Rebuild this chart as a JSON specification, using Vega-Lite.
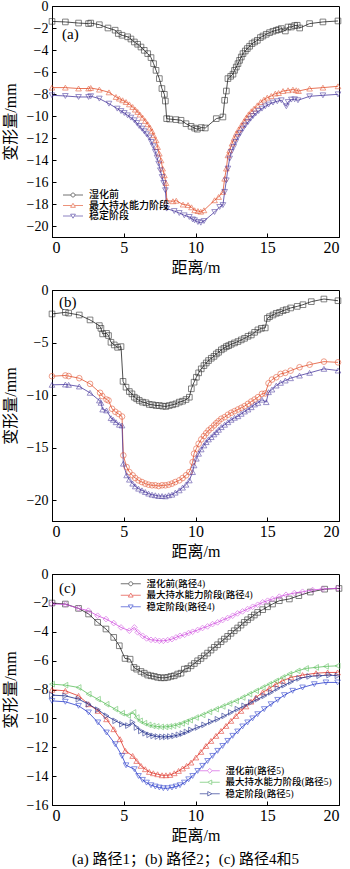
{
"$schema": "https://vega.github.io/schema/vega-lite/v6.json",
"background": "white",
"padding": {"left": 1, "top": -2, "right": 10, "bottom": 2},
"config": {
  "font": "Liberation Serif, Noto Sans CJK SC",
  "view": {"stroke": "#000", "strokeWidth": 1},
  "axis": {"grid": false, "domainColor": "#000", "domainWidth": 1, "tickColor": "#000", "tickWidth": 1, "tickSize": -4, "labelColor": "#000", "labelFont": "Liberation Serif", "titleFont": "Liberation Serif, Noto Sans CJK SC", "titleFontWeight": "normal", "titleColor": "#000", "titleFontSize": 16},
  "axisX": {"labelFontSize": 16, "labelPadding": 6, "titlePadding": 4},
  "axisY": {"labelFontSize": 14, "labelPadding": 8, "titlePadding": 8},
  "legend": {"labelFont": "Liberation Serif, Noto Sans CJK SC", "labelColor": "#000", "labelFontSize": 10, "labelFontWeight": 500, "symbolSize": 16, "labelOffset": 19, "rowPadding": 0.5, "symbolStrokeWidth": 0.9, "symbolFillColor": "transparent"}
},
"title": {"text": "(a) 路径1；(b) 路径2；(c) 路径4和5", "orient": "bottom", "anchor": "middle", "frame": "bounds", "fontSize": 15, "fontWeight": "normal", "font": "Liberation Serif, Noto Sans CJK SC", "offset": 8, "dx": 6},
"bounds": "flush",
"spacing": 53,
"datasets": {
"a": [
{"s":"湿化前","x":0,"y":-1.4},{"s":"湿化前","x":0.93,"y":-1.45},{"s":"湿化前","x":1.85,"y":-1.55},{"s":"湿化前","x":2.55,"y":-1.6},{"s":"湿化前","x":2.7,"y":-1.55},{"s":"湿化前","x":3.3,"y":-1.7},{"s":"湿化前","x":3.9,"y":-2.0},{"s":"湿化前","x":4.4,"y":-2.2},{"s":"湿化前","x":4.62,"y":-2.5},{"s":"湿化前","x":4.88,"y":-2.66},{"s":"湿化前","x":5.27,"y":-2.8},{"s":"湿化前","x":5.5,"y":-3.0},{"s":"湿化前","x":5.74,"y":-3.27},{"s":"湿化前","x":5.97,"y":-3.48},{"s":"湿化前","x":6.2,"y":-3.73},{"s":"湿化前","x":6.43,"y":-4.03},{"s":"湿化前","x":6.67,"y":-4.33},{"s":"湿化前","x":6.9,"y":-4.69},{"s":"湿化前","x":7.08,"y":-5.24},{"s":"湿化前","x":7.25,"y":-5.85},{"s":"湿化前","x":7.48,"y":-6.6},{"s":"湿化前","x":7.66,"y":-7.5},{"s":"湿化前","x":7.83,"y":-8.03},{"s":"湿化前","x":7.9,"y":-8.64},{"s":"湿化前","x":7.99,"y":-10.24},{"s":"湿化前","x":8.2,"y":-10.28},{"s":"湿化前","x":8.64,"y":-10.33},{"s":"湿化前","x":8.99,"y":-10.39},{"s":"湿化前","x":9.34,"y":-10.7},{"s":"湿化前","x":9.69,"y":-10.94},{"s":"湿化前","x":9.94,"y":-11.1},{"s":"湿化前","x":10.13,"y":-11.2},{"s":"湿化前","x":10.4,"y":-11.05},{"s":"湿化前","x":10.68,"y":-11.09},{"s":"湿化前","x":11.45,"y":-10.24},{"s":"湿化前","x":11.91,"y":-10.09},{"s":"湿化前","x":12.03,"y":-8.57},{"s":"湿化前","x":12.15,"y":-7.73},{"s":"湿化前","x":12.26,"y":-6.6},{"s":"湿化前","x":12.45,"y":-6.39},{"s":"湿化前","x":12.61,"y":-6.2},{"s":"湿化前","x":12.72,"y":-5.85},{"s":"湿化前","x":12.84,"y":-5.55},{"s":"湿化前","x":12.96,"y":-5.24},{"s":"湿化前","x":13.07,"y":-4.94},{"s":"湿化前","x":13.19,"y":-4.64},{"s":"湿化前","x":13.31,"y":-4.33},{"s":"湿化前","x":13.47,"y":-4.09},{"s":"湿化前","x":13.61,"y":-3.87},{"s":"湿化前","x":13.77,"y":-3.66},{"s":"湿化前","x":13.94,"y":-3.42},{"s":"湿化前","x":14.12,"y":-3.27},{"s":"湿化前","x":14.31,"y":-3.12},{"s":"湿化前","x":14.52,"y":-2.87},{"s":"湿化前","x":14.7,"y":-2.73},{"s":"湿化前","x":14.93,"y":-2.57},{"s":"湿化前","x":15.16,"y":-2.42},{"s":"湿化前","x":15.4,"y":-2.3},{"s":"湿化前","x":15.63,"y":-2.21},{"s":"湿化前","x":15.79,"y":-2.15},{"s":"湿化前","x":15.98,"y":-2.05},{"s":"湿化前","x":16.26,"y":-2.27},{"s":"湿化前","x":16.45,"y":-1.91},{"s":"湿化前","x":16.68,"y":-1.91},{"s":"湿化前","x":16.91,"y":-1.78},{"s":"湿化前","x":17.09,"y":-1.75},{"s":"湿化前","x":17.26,"y":-2.0},{"s":"湿化前","x":17.95,"y":-1.6},{"s":"湿化前","x":18.88,"y":-1.45},{"s":"湿化前","x":19.93,"y":-1.36},
{"s":"最大持水能力阶段","x":0,"y":-7.42},{"s":"最大持水能力阶段","x":0.93,"y":-7.42},{"s":"最大持水能力阶段","x":1.85,"y":-7.5},{"s":"最大持水能力阶段","x":2.55,"y":-7.5},{"s":"最大持水能力阶段","x":2.7,"y":-7.45},{"s":"最大持水能力阶段","x":3.3,"y":-7.6},{"s":"最大持水能力阶段","x":3.97,"y":-7.85},{"s":"最大持水能力阶段","x":4.46,"y":-8.27},{"s":"最大持水能力阶段","x":4.69,"y":-8.42},{"s":"最大持水能力阶段","x":4.92,"y":-8.57},{"s":"最大持水能力阶段","x":5.16,"y":-8.73},{"s":"最大持水能力阶段","x":5.39,"y":-8.94},{"s":"最大持水能力阶段","x":5.62,"y":-9.18},{"s":"最大持水能力阶段","x":5.8,"y":-9.42},{"s":"最大持水能力阶段","x":5.97,"y":-9.63},{"s":"最大持水能力阶段","x":6.13,"y":-9.87},{"s":"最大持水能力阶段","x":6.32,"y":-10.15},{"s":"最大持水能力阶段","x":6.5,"y":-10.45},{"s":"最大持水能力阶段","x":6.67,"y":-10.75},{"s":"最大持水能力阶段","x":6.83,"y":-11.06},{"s":"最大持水能力阶段","x":6.97,"y":-11.39},{"s":"最大持水能力阶段","x":7.08,"y":-11.75},{"s":"最大持水能力阶段","x":7.25,"y":-12.2},{"s":"最大持水能力阶段","x":7.36,"y":-12.82},{"s":"最大持水能力阶段","x":7.48,"y":-13.42},{"s":"最大持水能力阶段","x":7.6,"y":-14.03},{"s":"最大持水能力阶段","x":7.71,"y":-14.78},{"s":"最大持水能力阶段","x":7.83,"y":-15.39},{"s":"最大持水能力阶段","x":7.94,"y":-16.09},{"s":"最大持水能力阶段","x":8.0,"y":-17.7},{"s":"最大持水能力阶段","x":8.43,"y":-17.75},{"s":"最大持水能力阶段","x":8.66,"y":-17.7},{"s":"最大持水能力阶段","x":9.13,"y":-18.05},{"s":"最大持水能力阶段","x":9.48,"y":-18.1},{"s":"最大持水能力阶段","x":9.72,"y":-18.3},{"s":"最大持水能力阶段","x":9.94,"y":-18.57},{"s":"最大持水能力阶段","x":10.17,"y":-18.64},{"s":"最大持水能力阶段","x":10.37,"y":-18.7},{"s":"最大持水能力阶段","x":10.59,"y":-18.57},{"s":"最大持水能力阶段","x":11.33,"y":-17.66},{"s":"最大持水能力阶段","x":11.61,"y":-17.36},{"s":"最大持水能力阶段","x":11.91,"y":-16.9},{"s":"最大持水能力阶段","x":12.03,"y":-15.7},{"s":"最大持水能力阶段","x":12.15,"y":-14.78},{"s":"最大持水能力阶段","x":12.26,"y":-13.57},{"s":"最大持水能力阶段","x":12.38,"y":-13.12},{"s":"最大持水能力阶段","x":12.54,"y":-12.51},{"s":"最大持水能力阶段","x":12.68,"y":-12.05},{"s":"最大持水能力阶段","x":12.84,"y":-11.6},{"s":"最大持水能力阶段","x":13.0,"y":-11.24},{"s":"最大持水能力阶段","x":13.19,"y":-10.85},{"s":"最大持水能力阶段","x":13.38,"y":-10.48},{"s":"最大持水能力阶段","x":13.54,"y":-10.15},{"s":"最大持水能力阶段","x":13.7,"y":-9.85},{"s":"最大持水能力阶段","x":13.89,"y":-9.57},{"s":"最大持水能力阶段","x":14.08,"y":-9.33},{"s":"最大持水能力阶段","x":14.31,"y":-9.03},{"s":"最大持水能力阶段","x":14.54,"y":-8.73},{"s":"最大持水能力阶段","x":14.77,"y":-8.51},{"s":"最大持水能力阶段","x":15.0,"y":-8.33},{"s":"最大持水能力阶段","x":15.28,"y":-8.18},{"s":"最大持水能力阶段","x":15.56,"y":-7.96},{"s":"最大持水能力阶段","x":15.79,"y":-7.91},{"s":"最大持水能力阶段","x":16.1,"y":-7.73},{"s":"最大持水能力阶段","x":16.45,"y":-7.66},{"s":"最大持水能力阶段","x":16.79,"y":-7.6},{"s":"最大持水能力阶段","x":17.02,"y":-7.66},{"s":"最大持水能力阶段","x":17.18,"y":-7.73},{"s":"最大持水能力阶段","x":17.95,"y":-7.51},{"s":"最大持水能力阶段","x":18.88,"y":-7.42},{"s":"最大持水能力阶段","x":19.93,"y":-7.3},
{"s":"稳定阶段","x":0,"y":-8.12},{"s":"稳定阶段","x":0.93,"y":-8.18},{"s":"稳定阶段","x":1.85,"y":-8.27},{"s":"稳定阶段","x":2.55,"y":-8.27},{"s":"稳定阶段","x":2.7,"y":-8.2},{"s":"稳定阶段","x":3.3,"y":-8.42},{"s":"稳定阶段","x":3.97,"y":-8.88},{"s":"稳定阶段","x":4.55,"y":-9.33},{"s":"稳定阶段","x":4.81,"y":-9.55},{"s":"稳定阶段","x":5.04,"y":-9.73},{"s":"稳定阶段","x":5.27,"y":-9.94},{"s":"稳定阶段","x":5.5,"y":-10.15},{"s":"稳定阶段","x":5.74,"y":-10.39},{"s":"稳定阶段","x":5.92,"y":-10.64},{"s":"稳定阶段","x":6.08,"y":-10.91},{"s":"稳定阶段","x":6.27,"y":-11.15},{"s":"稳定阶段","x":6.43,"y":-11.39},{"s":"稳定阶段","x":6.59,"y":-11.66},{"s":"稳定阶段","x":6.78,"y":-11.96},{"s":"稳定阶段","x":6.92,"y":-12.36},{"s":"稳定阶段","x":7.06,"y":-12.75},{"s":"稳定阶段","x":7.2,"y":-13.27},{"s":"稳定阶段","x":7.32,"y":-13.78},{"s":"稳定阶段","x":7.43,"y":-14.33},{"s":"稳定阶段","x":7.55,"y":-14.94},{"s":"稳定阶段","x":7.67,"y":-15.55},{"s":"稳定阶段","x":7.78,"y":-16.09},{"s":"稳定阶段","x":7.9,"y":-16.75},{"s":"稳定阶段","x":7.99,"y":-18.42},{"s":"稳定阶段","x":8.52,"y":-18.64},{"s":"稳定阶段","x":8.87,"y":-18.82},{"s":"稳定阶段","x":9.22,"y":-19.03},{"s":"稳定阶段","x":9.57,"y":-19.18},{"s":"稳定阶段","x":9.8,"y":-19.4},{"s":"稳定阶段","x":9.94,"y":-19.48},{"s":"稳定阶段","x":10.17,"y":-19.64},{"s":"稳定阶段","x":10.37,"y":-19.7},{"s":"稳定阶段","x":10.59,"y":-19.55},{"s":"稳定阶段","x":11.33,"y":-18.73},{"s":"稳定阶段","x":11.68,"y":-18.27},{"s":"稳定阶段","x":11.91,"y":-18.1},{"s":"稳定阶段","x":12.03,"y":-16.9},{"s":"稳定阶段","x":12.15,"y":-15.85},{"s":"稳定阶段","x":12.26,"y":-14.78},{"s":"稳定阶段","x":12.38,"y":-13.87},{"s":"稳定阶段","x":12.49,"y":-13.27},{"s":"稳定阶段","x":12.66,"y":-12.82},{"s":"稳定阶段","x":12.8,"y":-12.36},{"s":"稳定阶段","x":12.96,"y":-11.91},{"s":"稳定阶段","x":13.12,"y":-11.55},{"s":"稳定阶段","x":13.31,"y":-11.15},{"s":"稳定阶段","x":13.47,"y":-10.85},{"s":"稳定阶段","x":13.66,"y":-10.55},{"s":"稳定阶段","x":13.84,"y":-10.24},{"s":"稳定阶段","x":14.01,"y":-10.0},{"s":"稳定阶段","x":14.19,"y":-9.78},{"s":"稳定阶段","x":14.4,"y":-9.55},{"s":"稳定阶段","x":14.63,"y":-9.33},{"s":"稳定阶段","x":14.86,"y":-9.12},{"s":"稳定阶段","x":15.09,"y":-8.96},{"s":"稳定阶段","x":15.4,"y":-8.78},{"s":"稳定阶段","x":15.7,"y":-8.66},{"s":"稳定阶段","x":15.98,"y":-8.57},{"s":"稳定阶段","x":16.33,"y":-9.12},{"s":"稳定阶段","x":16.45,"y":-8.73},{"s":"稳定阶段","x":16.68,"y":-8.51},{"s":"稳定阶段","x":16.91,"y":-8.48},{"s":"稳定阶段","x":17.14,"y":-8.57},{"s":"稳定阶段","x":17.95,"y":-8.21},{"s":"稳定阶段","x":18.88,"y":-8.12},{"s":"稳定阶段","x":19.93,"y":-8.03}
],
"b": [
{"s":"湿化前","x":0,"y":-2.28},{"s":"湿化前","x":0.93,"y":-2.13},{"s":"湿化前","x":1.16,"y":-2.2},{"s":"湿化前","x":1.9,"y":-2.38},{"s":"湿化前","x":2.65,"y":-2.85},{"s":"湿化前","x":3.3,"y":-3.39},{"s":"湿化前","x":3.41,"y":-3.65},{"s":"湿化前","x":3.53,"y":-4.18},{"s":"湿化前","x":3.8,"y":-4.13},{"s":"湿化前","x":3.94,"y":-4.34},{"s":"湿化前","x":4.11,"y":-4.98},{"s":"湿化前","x":4.34,"y":-5.23},{"s":"湿化前","x":4.57,"y":-5.46},{"s":"湿化前","x":4.81,"y":-5.39},{"s":"湿化前","x":4.95,"y":-8.7},{"s":"湿化前","x":5.16,"y":-9.26},{"s":"湿化前","x":5.39,"y":-9.67},{"s":"湿化前","x":5.57,"y":-9.89},{"s":"湿化前","x":5.74,"y":-10.21},{"s":"湿化前","x":5.9,"y":-10.36},{"s":"湿化前","x":6.08,"y":-10.52},{"s":"湿化前","x":6.31,"y":-10.68},{"s":"湿化前","x":6.55,"y":-10.74},{"s":"湿化前","x":6.78,"y":-10.9},{"s":"湿化前","x":7.01,"y":-10.93},{"s":"湿化前","x":7.25,"y":-11.0},{"s":"湿化前","x":7.48,"y":-11.0},{"s":"湿化前","x":7.71,"y":-11.06},{"s":"湿化前","x":7.94,"y":-11.09},{"s":"湿化前","x":8.17,"y":-11.0},{"s":"湿化前","x":8.4,"y":-10.93},{"s":"湿化前","x":8.64,"y":-10.84},{"s":"湿化前","x":8.87,"y":-10.68},{"s":"湿化前","x":9.1,"y":-10.59},{"s":"湿化前","x":9.34,"y":-10.43},{"s":"湿化前","x":9.57,"y":-10.21},{"s":"湿化前","x":9.71,"y":-9.41},{"s":"湿化前","x":9.9,"y":-8.78},{"s":"湿化前","x":10.06,"y":-8.31},{"s":"湿化前","x":10.22,"y":-7.89},{"s":"湿化前","x":10.4,"y":-7.51},{"s":"湿化前","x":10.59,"y":-7.2},{"s":"湿化前","x":10.75,"y":-6.95},{"s":"湿化前","x":10.91,"y":-6.72},{"s":"湿化前","x":11.1,"y":-6.5},{"s":"湿化前","x":11.29,"y":-6.32},{"s":"湿化前","x":11.45,"y":-6.09},{"s":"湿化前","x":11.61,"y":-5.93},{"s":"湿化前","x":11.8,"y":-5.7},{"s":"湿化前","x":11.98,"y":-5.55},{"s":"湿化前","x":12.15,"y":-5.39},{"s":"湿化前","x":12.31,"y":-5.3},{"s":"湿化前","x":12.49,"y":-5.17},{"s":"湿化前","x":12.72,"y":-5.04},{"s":"湿化前","x":12.96,"y":-4.91},{"s":"湿化前","x":13.19,"y":-4.75},{"s":"湿化前","x":13.42,"y":-4.6},{"s":"湿化前","x":13.66,"y":-4.41},{"s":"湿化前","x":13.89,"y":-4.28},{"s":"湿化前","x":14.12,"y":-4.03},{"s":"湿化前","x":14.35,"y":-3.8},{"s":"湿化前","x":14.59,"y":-3.65},{"s":"湿化前","x":14.86,"y":-3.61},{"s":"湿化前","x":15.0,"y":-2.7},{"s":"湿化前","x":15.16,"y":-2.54},{"s":"湿化前","x":15.4,"y":-2.38},{"s":"湿化前","x":15.63,"y":-2.22},{"s":"湿化前","x":15.86,"y":-2.13},{"s":"湿化前","x":16.1,"y":-1.97},{"s":"湿化前","x":16.33,"y":-1.87},{"s":"湿化前","x":16.63,"y":-1.71},{"s":"湿化前","x":17.09,"y":-1.56},{"s":"湿化前","x":17.49,"y":-1.4},{"s":"湿化前","x":18.07,"y":-1.11},{"s":"湿化前","x":18.95,"y":-0.86},{"s":"湿化前","x":19.93,"y":-1.02},
{"s":"最大持水能力阶段","x":0,"y":-8.21},{"s":"最大持水能力阶段","x":0.93,"y":-8.14},{"s":"最大持水能力阶段","x":1.16,"y":-8.2},{"s":"最大持水能力阶段","x":1.9,"y":-8.4},{"s":"最大持水能力阶段","x":2.65,"y":-8.94},{"s":"最大持水能力阶段","x":3.35,"y":-9.79},{"s":"最大持水能力阶段","x":3.5,"y":-10.1},{"s":"最大持水能力阶段","x":3.8,"y":-10.43},{"s":"最大持水能力阶段","x":3.94,"y":-10.52},{"s":"最大持水能力阶段","x":4.18,"y":-11.31},{"s":"最大持水能力阶段","x":4.41,"y":-11.6},{"s":"最大持水能力阶段","x":4.64,"y":-11.8},{"s":"最大持水能力阶段","x":4.88,"y":-12.05},{"s":"最大持水能力阶段","x":4.97,"y":-15.75},{"s":"最大持水能力阶段","x":5.2,"y":-16.86},{"s":"最大持水能力阶段","x":5.39,"y":-17.34},{"s":"最大持水能力阶段","x":5.62,"y":-17.65},{"s":"最大持水能力阶段","x":5.8,"y":-17.91},{"s":"最大持水能力阶段","x":6.03,"y":-18.13},{"s":"最大持水能力阶段","x":6.27,"y":-18.29},{"s":"最大持水能力阶段","x":6.5,"y":-18.44},{"s":"最大持水能力阶段","x":6.73,"y":-18.54},{"s":"最大持水能力阶段","x":6.97,"y":-18.6},{"s":"最大持水能力阶段","x":7.2,"y":-18.6},{"s":"最大持水能力阶段","x":7.43,"y":-18.67},{"s":"最大持水能力阶段","x":7.67,"y":-18.6},{"s":"最大持水能力阶段","x":7.9,"y":-18.6},{"s":"最大持水能力阶段","x":8.13,"y":-18.54},{"s":"最大持水能力阶段","x":8.36,"y":-18.44},{"s":"最大持水能力阶段","x":8.59,"y":-18.29},{"s":"最大持水能力阶段","x":8.87,"y":-18.13},{"s":"最大持水能力阶段","x":9.1,"y":-17.91},{"s":"最大持水能力阶段","x":9.34,"y":-17.65},{"s":"最大持水能力阶段","x":9.57,"y":-17.34},{"s":"最大持水能力阶段","x":9.8,"y":-16.39},{"s":"最大持水能力阶段","x":9.9,"y":-15.59},{"s":"最大持水能力阶段","x":10.06,"y":-15.11},{"s":"最大持水能力阶段","x":10.22,"y":-14.64},{"s":"最大持水能力阶段","x":10.4,"y":-14.23},{"s":"最大持水能力阶段","x":10.59,"y":-13.91},{"s":"最大持水能力阶段","x":10.75,"y":-13.63},{"s":"最大持水能力阶段","x":10.91,"y":-13.37},{"s":"最大持水能力阶段","x":11.1,"y":-13.15},{"s":"最大持水能力阶段","x":11.29,"y":-12.9},{"s":"最大持水能力阶段","x":11.45,"y":-12.68},{"s":"最大持水能力阶段","x":11.61,"y":-12.49},{"s":"最大持水能力阶段","x":11.8,"y":-12.26},{"s":"最大持水能力阶段","x":12.03,"y":-12.11},{"s":"最大持水能力阶段","x":12.26,"y":-11.88},{"s":"最大持水能力阶段","x":12.49,"y":-11.69},{"s":"最大持水能力阶段","x":12.72,"y":-11.54},{"s":"最大持水能力阶段","x":12.96,"y":-11.38},{"s":"最大持水能力阶段","x":13.19,"y":-11.22},{"s":"最大持水能力阶段","x":13.42,"y":-11.06},{"s":"最大持水能力阶段","x":13.66,"y":-10.84},{"s":"最大持水能力阶段","x":13.89,"y":-10.62},{"s":"最大持水能力阶段","x":14.12,"y":-10.43},{"s":"最大持水能力阶段","x":14.35,"y":-10.21},{"s":"最大持水能力阶段","x":14.63,"y":-9.89},{"s":"最大持水能力阶段","x":14.86,"y":-9.85},{"s":"最大持水能力阶段","x":15.09,"y":-8.88},{"s":"最大持水能力阶段","x":15.33,"y":-8.53},{"s":"最大持水能力阶段","x":15.63,"y":-8.31},{"s":"最大持水能力阶段","x":15.93,"y":-7.99},{"s":"最大持水能力阶段","x":16.26,"y":-7.89},{"s":"最大持水能力阶段","x":16.63,"y":-7.68},{"s":"最大持水能力阶段","x":17.25,"y":-7.36},{"s":"最大持水能力阶段","x":17.95,"y":-7.11},{"s":"最大持水能力阶段","x":18.95,"y":-6.82},{"s":"最大持水能力阶段","x":19.93,"y":-6.89},
{"s":"稳定阶段","x":0,"y":-9.03},{"s":"稳定阶段","x":0.93,"y":-9.0},{"s":"稳定阶段","x":1.16,"y":-9.03},{"s":"稳定阶段","x":1.9,"y":-9.19},{"s":"稳定阶段","x":2.65,"y":-9.79},{"s":"稳定阶段","x":3.3,"y":-10.52},{"s":"稳定阶段","x":3.41,"y":-10.74},{"s":"稳定阶段","x":3.53,"y":-11.38},{"s":"稳定阶段","x":3.8,"y":-11.47},{"s":"稳定阶段","x":4.11,"y":-12.2},{"s":"稳定阶段","x":4.27,"y":-12.36},{"s":"稳定阶段","x":4.46,"y":-12.59},{"s":"稳定阶段","x":4.69,"y":-12.83},{"s":"稳定阶段","x":4.88,"y":-12.9},{"s":"稳定阶段","x":4.97,"y":-16.54},{"s":"稳定阶段","x":5.2,"y":-17.65},{"s":"稳定阶段","x":5.39,"y":-18.06},{"s":"稳定阶段","x":5.62,"y":-18.44},{"s":"稳定阶段","x":5.8,"y":-18.7},{"s":"稳定阶段","x":6.03,"y":-18.92},{"s":"稳定阶段","x":6.27,"y":-19.08},{"s":"稳定阶段","x":6.5,"y":-19.24},{"s":"稳定阶段","x":6.73,"y":-19.39},{"s":"稳定阶段","x":6.97,"y":-19.49},{"s":"稳定阶段","x":7.2,"y":-19.55},{"s":"稳定阶段","x":7.43,"y":-19.62},{"s":"稳定阶段","x":7.67,"y":-19.62},{"s":"稳定阶段","x":7.9,"y":-19.65},{"s":"稳定阶段","x":8.13,"y":-19.55},{"s":"稳定阶段","x":8.36,"y":-19.49},{"s":"稳定阶段","x":8.59,"y":-19.3},{"s":"稳定阶段","x":8.87,"y":-19.08},{"s":"稳定阶段","x":9.1,"y":-18.82},{"s":"稳定阶段","x":9.34,"y":-18.54},{"s":"稳定阶段","x":9.57,"y":-18.13},{"s":"稳定阶段","x":9.8,"y":-17.34},{"s":"稳定阶段","x":9.9,"y":-16.7},{"s":"稳定阶段","x":10.06,"y":-16.06},{"s":"稳定阶段","x":10.22,"y":-15.59},{"s":"稳定阶段","x":10.4,"y":-15.18},{"s":"稳定阶段","x":10.59,"y":-14.8},{"s":"稳定阶段","x":10.75,"y":-14.49},{"s":"稳定阶段","x":10.91,"y":-14.23},{"s":"稳定阶段","x":11.1,"y":-14.01},{"s":"稳定阶段","x":11.29,"y":-13.75},{"s":"稳定阶段","x":11.45,"y":-13.54},{"s":"稳定阶段","x":11.61,"y":-13.31},{"s":"稳定阶段","x":11.8,"y":-13.06},{"s":"稳定阶段","x":12.03,"y":-12.83},{"s":"稳定阶段","x":12.26,"y":-12.59},{"s":"稳定阶段","x":12.49,"y":-12.36},{"s":"稳定阶段","x":12.72,"y":-12.17},{"s":"稳定阶段","x":12.96,"y":-12.02},{"s":"稳定阶段","x":13.19,"y":-11.79},{"s":"稳定阶段","x":13.42,"y":-11.57},{"s":"稳定阶段","x":13.66,"y":-11.38},{"s":"稳定阶段","x":13.89,"y":-11.16},{"s":"稳定阶段","x":14.12,"y":-10.9},{"s":"稳定阶段","x":14.35,"y":-10.75},{"s":"稳定阶段","x":14.63,"y":-10.45},{"s":"稳定阶段","x":14.93,"y":-10.68},{"s":"稳定阶段","x":15.09,"y":-9.73},{"s":"稳定阶段","x":15.33,"y":-9.48},{"s":"稳定阶段","x":15.63,"y":-9.1},{"s":"稳定阶段","x":15.93,"y":-8.84},{"s":"稳定阶段","x":16.26,"y":-8.62},{"s":"稳定阶段","x":16.63,"y":-8.4},{"s":"稳定阶段","x":17.25,"y":-8.15},{"s":"稳定阶段","x":17.95,"y":-7.89},{"s":"稳定阶段","x":18.95,"y":-7.51},{"s":"稳定阶段","x":19.93,"y":-7.67}
],
"c4": [
{"s":"湿化前(路径4)","x":0,"y":-2.01},{"s":"湿化前(路径4)","x":0.93,"y":-2.08},{"s":"湿化前(路径4)","x":1.85,"y":-2.38},{"s":"湿化前(路径4)","x":2.55,"y":-2.77},{"s":"湿化前(路径4)","x":3.18,"y":-3.35},{"s":"湿化前(路径4)","x":3.76,"y":-3.81},{"s":"湿化前(路径4)","x":4.3,"y":-4.39},{"s":"湿化前(路径4)","x":4.69,"y":-4.97},{"s":"湿化前(路径4)","x":5.09,"y":-5.85},{"s":"湿化前(路径4)","x":5.44,"y":-5.9},{"s":"湿化前(路径4)","x":5.71,"y":-6.47},{"s":"湿化前(路径4)","x":5.9,"y":-6.59},{"s":"湿化前(路径4)","x":6.2,"y":-6.75},{"s":"湿化前(路径4)","x":6.43,"y":-6.87},{"s":"湿化前(路径4)","x":6.67,"y":-7.0},{"s":"湿化前(路径4)","x":6.9,"y":-7.05},{"s":"湿化前(路径4)","x":7.13,"y":-7.09},{"s":"湿化前(路径4)","x":7.36,"y":-7.16},{"s":"湿化前(路径4)","x":7.6,"y":-7.19},{"s":"湿化前(路径4)","x":7.83,"y":-7.19},{"s":"湿化前(路径4)","x":8.06,"y":-7.16},{"s":"湿化前(路径4)","x":8.29,"y":-7.09},{"s":"湿化前(路径4)","x":8.52,"y":-7.05},{"s":"湿化前(路径4)","x":8.76,"y":-6.93},{"s":"湿化前(路径4)","x":8.99,"y":-6.87},{"s":"湿化前(路径4)","x":9.22,"y":-6.59},{"s":"湿化前(路径4)","x":9.45,"y":-6.54},{"s":"湿化前(路径4)","x":9.69,"y":-6.36},{"s":"湿化前(路径4)","x":9.92,"y":-6.2},{"s":"湿化前(路径4)","x":10.15,"y":-6.01},{"s":"湿化前(路径4)","x":10.38,"y":-5.85},{"s":"湿化前(路径4)","x":10.61,"y":-5.67},{"s":"湿化前(路径4)","x":10.84,"y":-5.48},{"s":"湿化前(路径4)","x":11.08,"y":-5.27},{"s":"湿化前(路径4)","x":11.31,"y":-5.08},{"s":"湿化前(路径4)","x":11.54,"y":-4.9},{"s":"湿化前(路径4)","x":11.78,"y":-4.69},{"s":"湿化前(路径4)","x":12.01,"y":-4.51},{"s":"湿化前(路径4)","x":12.24,"y":-4.32},{"s":"湿化前(路径4)","x":12.47,"y":-4.11},{"s":"湿化前(路径4)","x":12.7,"y":-3.93},{"s":"湿化前(路径4)","x":12.94,"y":-3.74},{"s":"湿化前(路径4)","x":13.17,"y":-3.54},{"s":"湿化前(路径4)","x":13.4,"y":-3.35},{"s":"湿化前(路径4)","x":13.63,"y":-3.17},{"s":"湿化前(路径4)","x":13.87,"y":-3.0},{"s":"湿化前(路径4)","x":14.1,"y":-2.84},{"s":"湿化前(路径4)","x":14.33,"y":-2.66},{"s":"湿化前(路径4)","x":14.68,"y":-2.47},{"s":"湿化前(路径4)","x":15.02,"y":-2.27},{"s":"湿化前(路径4)","x":15.37,"y":-2.08},{"s":"湿化前(路径4)","x":15.84,"y":-1.85},{"s":"湿化前(路径4)","x":16.54,"y":-1.73},{"s":"湿化前(路径4)","x":17.2,"y":-1.5},{"s":"湿化前(路径4)","x":18.0,"y":-1.25},{"s":"湿化前(路径4)","x":19.0,"y":-1.05},{"s":"湿化前(路径4)","x":20,"y":-1.0},
{"s":"最大持水能力阶段(路径4)","x":0,"y":-8.02},{"s":"最大持水能力阶段(路径4)","x":0.93,"y":-8.09},{"s":"最大持水能力阶段(路径4)","x":1.85,"y":-8.44},{"s":"最大持水能力阶段(路径4)","x":2.55,"y":-9.02},{"s":"最大持水能力阶段(路径4)","x":3.2,"y":-9.48},{"s":"最大持水能力阶段(路径4)","x":3.8,"y":-10.06},{"s":"最大持水能力阶段(路径4)","x":4.3,"y":-10.75},{"s":"最大持水能力阶段(路径4)","x":4.74,"y":-11.44},{"s":"最大持水能力阶段(路径4)","x":5.11,"y":-12.25},{"s":"最大持水能力阶段(路径4)","x":5.62,"y":-12.6},{"s":"最大持水能力阶段(路径4)","x":5.9,"y":-12.95},{"s":"最大持水能力阶段(路径4)","x":6.2,"y":-13.29},{"s":"最大持水能力阶段(路径4)","x":6.5,"y":-13.52},{"s":"最大持水能力阶段(路径4)","x":6.78,"y":-13.71},{"s":"最大持水能力阶段(路径4)","x":7.06,"y":-13.8},{"s":"最大持水能力阶段(路径4)","x":7.36,"y":-13.87},{"s":"最大持水能力阶段(路径4)","x":7.67,"y":-13.94},{"s":"最大持水能力阶段(路径4)","x":7.94,"y":-13.94},{"s":"最大持水能力阶段(路径4)","x":8.22,"y":-13.92},{"s":"最大持水能力阶段(路径4)","x":8.52,"y":-13.8},{"s":"最大持水能力阶段(路径4)","x":8.82,"y":-13.64},{"s":"最大持水能力阶段(路径4)","x":9.1,"y":-13.47},{"s":"最大持水能力阶段(路径4)","x":9.38,"y":-13.29},{"s":"最大持水能力阶段(路径4)","x":9.69,"y":-13.06},{"s":"最大持水能力阶段(路径4)","x":10.03,"y":-12.71},{"s":"最大持水能力阶段(路径4)","x":10.38,"y":-12.32},{"s":"最大持水能力阶段(路径4)","x":10.73,"y":-11.91},{"s":"最大持水能力阶段(路径4)","x":11.08,"y":-11.56},{"s":"最大持水能力阶段(路径4)","x":11.43,"y":-11.21},{"s":"最大持水能力阶段(路径4)","x":11.78,"y":-10.87},{"s":"最大持水能力阶段(路径4)","x":12.13,"y":-10.52},{"s":"最大持水能力阶段(路径4)","x":12.47,"y":-10.17},{"s":"最大持水能力阶段(路径4)","x":12.82,"y":-9.83},{"s":"最大持水能力阶段(路径4)","x":13.17,"y":-9.48},{"s":"最大持水能力阶段(路径4)","x":13.52,"y":-9.17},{"s":"最大持水能力阶段(路径4)","x":13.87,"y":-8.84},{"s":"最大持水能力阶段(路径4)","x":14.22,"y":-8.55},{"s":"最大持水能力阶段(路径4)","x":14.68,"y":-8.2},{"s":"最大持水能力阶段(路径4)","x":15.14,"y":-7.93},{"s":"最大持水能力阶段(路径4)","x":15.61,"y":-7.63},{"s":"最大持水能力阶段(路径4)","x":16.07,"y":-7.4},{"s":"最大持水能力阶段(路径4)","x":16.66,"y":-7.16},{"s":"最大持水能力阶段(路径4)","x":17.46,"y":-7.0},{"s":"最大持水能力阶段(路径4)","x":18.4,"y":-6.87},{"s":"最大持水能力阶段(路径4)","x":19.21,"y":-6.82},{"s":"最大持水能力阶段(路径4)","x":19.9,"y":-6.82},
{"s":"稳定阶段(路径4)","x":0,"y":-8.79},{"s":"稳定阶段(路径4)","x":0.93,"y":-8.85},{"s":"稳定阶段(路径4)","x":1.85,"y":-9.13},{"s":"稳定阶段(路径4)","x":2.55,"y":-9.59},{"s":"稳定阶段(路径4)","x":3.2,"y":-10.28},{"s":"稳定阶段(路径4)","x":3.8,"y":-10.98},{"s":"稳定阶段(路径4)","x":4.41,"y":-11.79},{"s":"稳定阶段(路径4)","x":4.88,"y":-12.6},{"s":"稳定阶段(路径4)","x":5.16,"y":-13.25},{"s":"稳定阶段(路径4)","x":5.74,"y":-13.52},{"s":"稳定阶段(路径4)","x":6.03,"y":-13.99},{"s":"稳定阶段(路径4)","x":6.31,"y":-14.26},{"s":"稳定阶段(路径4)","x":6.59,"y":-14.45},{"s":"稳定阶段(路径4)","x":6.9,"y":-14.63},{"s":"稳定阶段(路径4)","x":7.2,"y":-14.72},{"s":"稳定阶段(路径4)","x":7.48,"y":-14.79},{"s":"稳定阶段(路径4)","x":7.76,"y":-14.84},{"s":"稳定阶段(路径4)","x":8.06,"y":-14.84},{"s":"稳定阶段(路径4)","x":8.36,"y":-14.79},{"s":"稳定阶段(路径4)","x":8.64,"y":-14.72},{"s":"稳定阶段(路径4)","x":8.92,"y":-14.63},{"s":"稳定阶段(路径4)","x":9.22,"y":-14.45},{"s":"稳定阶段(路径4)","x":9.52,"y":-14.22},{"s":"稳定阶段(路径4)","x":9.8,"y":-13.99},{"s":"稳定阶段(路径4)","x":10.15,"y":-13.64},{"s":"稳定阶段(路径4)","x":10.49,"y":-13.29},{"s":"稳定阶段(路径4)","x":10.84,"y":-12.95},{"s":"稳定阶段(路径4)","x":11.19,"y":-12.6},{"s":"稳定阶段(路径4)","x":11.54,"y":-12.25},{"s":"稳定阶段(路径4)","x":11.89,"y":-11.91},{"s":"稳定阶段(路径4)","x":12.24,"y":-11.56},{"s":"稳定阶段(路径4)","x":12.59,"y":-11.21},{"s":"稳定阶段(路径4)","x":12.93,"y":-10.91},{"s":"稳定阶段(路径4)","x":13.28,"y":-10.56},{"s":"稳定阶段(路径4)","x":13.63,"y":-10.28},{"s":"稳定阶段(路径4)","x":13.98,"y":-10.0},{"s":"稳定阶段(路径4)","x":14.33,"y":-9.71},{"s":"稳定阶段(路径4)","x":14.79,"y":-9.36},{"s":"稳定阶段(路径4)","x":15.26,"y":-9.02},{"s":"稳定阶段(路径4)","x":15.72,"y":-8.72},{"s":"稳定阶段(路径4)","x":16.19,"y":-8.39},{"s":"稳定阶段(路径4)","x":16.77,"y":-8.09},{"s":"稳定阶段(路径4)","x":17.46,"y":-7.86},{"s":"稳定阶段(路径4)","x":18.28,"y":-7.63},{"s":"稳定阶段(路径4)","x":19.09,"y":-7.51},{"s":"稳定阶段(路径4)","x":19.9,"y":-7.51}
],
"c5": [
{"s":"湿化前(路径5)","x":0,"y":-2.08},{"s":"湿化前(路径5)","x":0.93,"y":-2.1},{"s":"湿化前(路径5)","x":1.85,"y":-2.38},{"s":"湿化前(路径5)","x":2.53,"y":-2.54},{"s":"湿化前(路径5)","x":3.18,"y":-2.89},{"s":"湿化前(路径5)","x":3.76,"y":-3.12},{"s":"湿化前(路径5)","x":4.3,"y":-3.4},{"s":"湿化前(路径5)","x":4.81,"y":-3.7},{"s":"湿化前(路径5)","x":5.39,"y":-3.93},{"s":"湿化前(路径5)","x":5.74,"y":-3.7},{"s":"湿化前(路径5)","x":5.97,"y":-4.04},{"s":"湿化前(路径5)","x":6.31,"y":-4.28},{"s":"湿化前(路径5)","x":6.59,"y":-4.46},{"s":"湿化前(路径5)","x":6.9,"y":-4.56},{"s":"湿化前(路径5)","x":7.2,"y":-4.58},{"s":"湿化前(路径5)","x":7.48,"y":-4.63},{"s":"湿化前(路径5)","x":7.76,"y":-4.63},{"s":"湿化前(路径5)","x":8.06,"y":-4.58},{"s":"湿化前(路径5)","x":8.36,"y":-4.51},{"s":"湿化前(路径5)","x":8.64,"y":-4.39},{"s":"湿化前(路径5)","x":8.92,"y":-4.28},{"s":"湿化前(路径5)","x":9.24,"y":-4.21},{"s":"湿化前(路径5)","x":9.52,"y":-4.09},{"s":"湿化前(路径5)","x":9.8,"y":-4.0},{"s":"湿化前(路径5)","x":10.15,"y":-3.88},{"s":"湿化前(路径5)","x":10.49,"y":-3.74},{"s":"湿化前(路径5)","x":10.84,"y":-3.63},{"s":"湿化前(路径5)","x":11.19,"y":-3.47},{"s":"湿化前(路径5)","x":11.54,"y":-3.35},{"s":"湿化前(路径5)","x":11.89,"y":-3.19},{"s":"湿化前(路径5)","x":12.24,"y":-3.05},{"s":"湿化前(路径5)","x":12.59,"y":-2.89},{"s":"湿化前(路径5)","x":12.93,"y":-2.73},{"s":"湿化前(路径5)","x":13.28,"y":-2.59},{"s":"湿化前(路径5)","x":13.63,"y":-2.43},{"s":"湿化前(路径5)","x":13.98,"y":-2.27},{"s":"湿化前(路径5)","x":14.33,"y":-2.13},{"s":"湿化前(路径5)","x":14.68,"y":-1.96},{"s":"湿化前(路径5)","x":15.02,"y":-1.85},{"s":"湿化前(路径5)","x":15.37,"y":-1.73},{"s":"湿化前(路径5)","x":15.84,"y":-1.57},{"s":"湿化前(路径5)","x":16.31,"y":-1.44},{"s":"湿化前(路径5)","x":16.89,"y":-1.32},{"s":"湿化前(路径5)","x":17.46,"y":-1.23},{"s":"湿化前(路径5)","x":18.16,"y":-1.11},{"s":"湿化前(路径5)","x":18.86,"y":-1.04},{"s":"湿化前(路径5)","x":19.9,"y":-0.99},
{"s":"最大持水能力阶段(路径5)","x":0,"y":-7.63},{"s":"最大持水能力阶段(路径5)","x":0.93,"y":-7.7},{"s":"最大持水能力阶段(路径5)","x":1.85,"y":-7.86},{"s":"最大持水能力阶段(路径5)","x":2.55,"y":-8.32},{"s":"最大持水能力阶段(路径5)","x":3.2,"y":-8.67},{"s":"最大持水能力阶段(路径5)","x":3.8,"y":-9.02},{"s":"最大持水能力阶段(路径5)","x":4.41,"y":-9.36},{"s":"最大持水能力阶段(路径5)","x":4.88,"y":-9.64},{"s":"最大持水能力阶段(路径5)","x":5.3,"y":-9.8},{"s":"最大持水能力阶段(路径5)","x":5.67,"y":-9.59},{"s":"最大持水能力阶段(路径5)","x":5.9,"y":-9.94},{"s":"最大持水能力阶段(路径5)","x":6.13,"y":-10.17},{"s":"最大持水能力阶段(路径5)","x":6.43,"y":-10.33},{"s":"最大持水能力阶段(路径5)","x":6.73,"y":-10.45},{"s":"最大持水能力阶段(路径5)","x":7.01,"y":-10.52},{"s":"最大持水能力阶段(路径5)","x":7.29,"y":-10.56},{"s":"最大持水能力阶段(路径5)","x":7.6,"y":-10.59},{"s":"最大持水能力阶段(路径5)","x":7.9,"y":-10.59},{"s":"最大持水能力阶段(路径5)","x":8.17,"y":-10.56},{"s":"最大持水能力阶段(路径5)","x":8.45,"y":-10.52},{"s":"最大持水能力阶段(路径5)","x":8.75,"y":-10.45},{"s":"最大持水能力阶段(路径5)","x":9.06,"y":-10.35},{"s":"最大持水能力阶段(路径5)","x":9.34,"y":-10.24},{"s":"最大持水能力阶段(路径5)","x":9.62,"y":-10.12},{"s":"最大持水能力阶段(路径5)","x":10.03,"y":-9.94},{"s":"最大持水能力阶段(路径5)","x":10.49,"y":-9.76},{"s":"最大持水能力阶段(路径5)","x":10.96,"y":-9.55},{"s":"最大持水能力阶段(路径5)","x":11.43,"y":-9.36},{"s":"最大持水能力阶段(路径5)","x":11.89,"y":-9.17},{"s":"最大持水能力阶段(路径5)","x":12.36,"y":-8.97},{"s":"最大持水能力阶段(路径5)","x":12.82,"y":-8.79},{"s":"最大持水能力阶段(路径5)","x":13.28,"y":-8.55},{"s":"最大持水能力阶段(路径5)","x":13.75,"y":-8.32},{"s":"最大持水能力阶段(路径5)","x":14.22,"y":-8.09},{"s":"最大持水能力阶段(路径5)","x":14.68,"y":-7.86},{"s":"最大持水能力阶段(路径5)","x":15.14,"y":-7.63},{"s":"最大持水能力阶段(路径5)","x":15.61,"y":-7.4},{"s":"最大持水能力阶段(路径5)","x":16.07,"y":-7.16},{"s":"最大持水能力阶段(路径5)","x":16.54,"y":-6.93},{"s":"最大持水能力阶段(路径5)","x":17.12,"y":-6.71},{"s":"最大持水能力阶段(路径5)","x":17.7,"y":-6.54},{"s":"最大持水能力阶段(路径5)","x":18.4,"y":-6.47},{"s":"最大持水能力阶段(路径5)","x":19.09,"y":-6.4},{"s":"最大持水能力阶段(路径5)","x":19.9,"y":-6.36},
{"s":"稳定阶段(路径5)","x":0,"y":-8.39},{"s":"稳定阶段(路径5)","x":0.93,"y":-8.44},{"s":"稳定阶段(路径5)","x":1.85,"y":-8.67},{"s":"稳定阶段(路径5)","x":2.55,"y":-9.02},{"s":"稳定阶段(路径5)","x":3.2,"y":-9.4},{"s":"稳定阶段(路径5)","x":3.8,"y":-9.82},{"s":"稳定阶段(路径5)","x":4.41,"y":-10.17},{"s":"稳定阶段(路径5)","x":4.88,"y":-10.4},{"s":"稳定阶段(路径5)","x":5.3,"y":-10.5},{"s":"稳定阶段(路径5)","x":5.62,"y":-10.28},{"s":"稳定阶段(路径5)","x":5.9,"y":-10.63},{"s":"稳定阶段(路径5)","x":6.2,"y":-10.87},{"s":"稳定阶段(路径5)","x":6.5,"y":-11.03},{"s":"稳定阶段(路径5)","x":6.78,"y":-11.14},{"s":"稳定阶段(路径5)","x":7.06,"y":-11.21},{"s":"稳定阶段(路径5)","x":7.36,"y":-11.26},{"s":"稳定阶段(路径5)","x":7.67,"y":-11.28},{"s":"稳定阶段(路径5)","x":7.94,"y":-11.28},{"s":"稳定阶段(路径5)","x":8.22,"y":-11.26},{"s":"稳定阶段(路径5)","x":8.52,"y":-11.21},{"s":"稳定阶段(路径5)","x":8.82,"y":-11.14},{"s":"稳定阶段(路径5)","x":9.1,"y":-11.05},{"s":"稳定阶段(路径5)","x":9.38,"y":-10.94},{"s":"稳定阶段(路径5)","x":9.69,"y":-10.8},{"s":"稳定阶段(路径5)","x":10.15,"y":-10.63},{"s":"稳定阶段(路径5)","x":10.61,"y":-10.45},{"s":"稳定阶段(路径5)","x":11.08,"y":-10.24},{"s":"稳定阶段(路径5)","x":11.54,"y":-10.06},{"s":"稳定阶段(路径5)","x":12.01,"y":-9.83},{"s":"稳定阶段(路径5)","x":12.47,"y":-9.59},{"s":"稳定阶段(路径5)","x":12.93,"y":-9.36},{"s":"稳定阶段(路径5)","x":13.4,"y":-9.13},{"s":"稳定阶段(路径5)","x":13.87,"y":-8.9},{"s":"稳定阶段(路径5)","x":14.33,"y":-8.67},{"s":"稳定阶段(路径5)","x":14.8,"y":-8.44},{"s":"稳定阶段(路径5)","x":15.26,"y":-8.2},{"s":"稳定阶段(路径5)","x":15.72,"y":-7.93},{"s":"稳定阶段(路径5)","x":16.19,"y":-7.7},{"s":"稳定阶段(路径5)","x":16.66,"y":-7.47},{"s":"稳定阶段(路径5)","x":17.23,"y":-7.23},{"s":"稳定阶段(路径5)","x":17.93,"y":-7.09},{"s":"稳定阶段(路径5)","x":18.63,"y":-7.05},{"s":"稳定阶段(路径5)","x":19.32,"y":-7.0},{"s":"稳定阶段(路径5)","x":19.9,"y":-7.05}
]
},
"vconcat": [
{
  "width": 287, "height": 231,
  "title": {"text": "(a)", "anchor": "start", "frame": "group", "orient": "top", "baseline": "top", "offset": -43, "dx": 10, "fontSize": 15, "fontWeight": "normal", "font": "Liberation Serif"},
  "data": {"name": "a"},
  "encoding": {
    "x": {"field": "x", "type": "quantitative", "scale": {"domain": [0, 20], "nice": false}, "axis": {"values": [0, 5, 10, 15, 20], "title": "距离/m"}},
    "y": {"field": "y", "type": "quantitative", "scale": {"domain": [-21, 0], "nice": false}, "axis": {"values": [-20, -18, -16, -14, -12, -10, -8, -6, -4, -2, 0], "title": "变形量/mm"}}
  },
  "layer": [
    {"mark": {"type": "line", "strokeWidth": 0.8},
     "encoding": {"stroke": {"field": "s", "type": "nominal", "scale": {"domain": ["稳定阶段", "最大持水能力阶段", "湿化前"], "range": ["#4a3a9e", "#e2522e", "#222222"]}, "legend": null}}},
    {"transform": [{"filter": "datum.s === '湿化前'"}], "mark": {"type": "point", "shape": "square", "filled": false, "strokeWidth": 0.8, "size": 32},
     "encoding": {"color": {"field": "s", "type": "nominal", "title": null, "scale": {"domain": ["湿化前", "最大持水能力阶段", "稳定阶段"], "range": ["#222222", "#e2522e", "#4a3a9e"]}}}},
    {"transform": [{"filter": "datum.s === '最大持水能力阶段'"}], "mark": {"type": "point", "shape": "triangle-up", "filled": false, "strokeWidth": 0.8, "size": 32},
     "encoding": {"color": {"field": "s", "type": "nominal", "title": null, "scale": {"domain": ["湿化前", "最大持水能力阶段", "稳定阶段"], "range": ["#222222", "#e2522e", "#4a3a9e"]}}}},
    {"transform": [{"filter": "datum.s === '稳定阶段'"}], "mark": {"type": "point", "shape": "triangle-down", "filled": false, "strokeWidth": 0.8, "size": 32},
     "encoding": {"color": {"field": "s", "type": "nominal", "title": null, "scale": {"domain": ["湿化前", "最大持水能力阶段", "稳定阶段"], "range": ["#222222", "#e2522e", "#4a3a9e"]}}}},
    {"mark": {"type": "point", "filled": false, "opacity": 0, "size": 16},
     "encoding": {
       "color": {"field": "s", "type": "nominal", "title": null, "scale": {"domain": ["湿化前", "最大持水能力阶段", "稳定阶段"], "range": ["#222222", "#e2522e", "#4a3a9e"]}, "legend": {"orient": "none", "legendX": 8, "legendY": 184}},
       "shape": {"field": "s", "type": "nominal", "title": null, "scale": {"domain": ["湿化前", "最大持水能力阶段", "稳定阶段"], "range": ["M-1,0H3M5,0H9M3,0A1,1,0,1,1,5,0A1,1,0,1,1,3,0Z", "M-1,0H3.3M4.7,0H9M4,-1.1L5.2,0.9L2.8,0.9Z", "M-1,0H3.3M4.7,0H9M4,1.1L5.2,-0.9L2.8,-0.9Z"]}, "legend": {"orient": "none", "legendX": 8, "legendY": 184}}
     }}
  ]
},
{
  "width": 287, "height": 231,
  "title": {"text": "(b)", "anchor": "start", "frame": "group", "orient": "top", "baseline": "top", "offset": -27, "dx": 7, "fontSize": 15, "fontWeight": "normal", "font": "Liberation Serif"},
  "data": {"name": "b"},
  "encoding": {
    "x": {"field": "x", "type": "quantitative", "scale": {"domain": [0, 20], "nice": false}, "axis": {"values": [0, 5, 10, 15, 20], "title": "距离/m"}},
    "y": {"field": "y", "type": "quantitative", "scale": {"domain": [-22, 0], "nice": false}, "axis": {"values": [-20, -15, -10, -5, 0], "title": "变形量/mm"}}
  },
  "layer": [
    {"mark": {"type": "line", "strokeWidth": 0.8},
     "encoding": {"stroke": {"field": "s", "type": "nominal", "scale": {"domain": ["稳定阶段", "最大持水能力阶段", "湿化前"], "range": ["#4a3a9e", "#e0603e", "#222222"]}, "legend": null}}},
    {"transform": [{"filter": "datum.s === '湿化前'"}], "mark": {"type": "point", "shape": "square", "filled": false, "strokeWidth": 0.8, "size": 32},
     "encoding": {"color": {"field": "s", "type": "nominal", "title": null, "scale": {"domain": ["湿化前", "最大持水能力阶段", "稳定阶段"], "range": ["#222222", "#e0603e", "#4a3a9e"]}}}},
    {"transform": [{"filter": "datum.s === '最大持水能力阶段'"}], "mark": {"type": "point", "shape": "circle", "filled": false, "strokeWidth": 0.8, "size": 32},
     "encoding": {"color": {"field": "s", "type": "nominal", "title": null, "scale": {"domain": ["湿化前", "最大持水能力阶段", "稳定阶段"], "range": ["#222222", "#e0603e", "#4a3a9e"]}}}},
    {"transform": [{"filter": "datum.s === '稳定阶段'"}], "mark": {"type": "point", "shape": "triangle-up", "filled": false, "strokeWidth": 0.8, "size": 32},
     "encoding": {"color": {"field": "s", "type": "nominal", "title": null, "scale": {"domain": ["湿化前", "最大持水能力阶段", "稳定阶段"], "range": ["#222222", "#e0603e", "#4a3a9e"]}}}},
    {"mark": {"type": "point", "filled": false, "opacity": 0, "size": 16},
     "encoding": {
       "color": {"field": "s", "type": "nominal", "title": null, "scale": {"domain": ["湿化前", "最大持水能力阶段", "稳定阶段"], "range": ["#222222", "#e0603e", "#4a3a9e"]}, "legend": {"orient": "none", "legendX": 177, "legendY": 187}},
       "shape": {"field": "s", "type": "nominal", "title": null, "scale": {"domain": ["湿化前", "最大持水能力阶段", "稳定阶段"], "range": ["M-1,0H3M5,0H9M3,0A1,1,0,1,1,5,0A1,1,0,1,1,3,0Z", "M-1,0H3M5,0H9M3,0A1,1,0,1,1,5,0A1,1,0,1,1,3,0Z", "M-1,0H3.3M4.7,0H9M4,-1.1L5.2,0.9L2.8,0.9Z"]}, "legend": {"orient": "none", "legendX": 177, "legendY": 187}}
     }}
  ]
},
{
  "width": 287, "height": 231,
  "title": {"text": "(c)", "anchor": "start", "frame": "group", "orient": "top", "baseline": "top", "offset": -29, "dx": 7, "fontSize": 15, "fontWeight": "normal", "font": "Liberation Serif"},
  "encoding": {
    "x": {"field": "x", "type": "quantitative", "scale": {"domain": [0, 20], "nice": false}, "axis": {"values": [0, 5, 10, 15, 20], "title": "距离/m"}},
    "y": {"field": "y", "type": "quantitative", "scale": {"domain": [-16, 0], "nice": false}, "axis": {"values": [-16, -14, -12, -10, -8, -6, -4, -2, 0], "title": "变形量/mm"}}
  },
  "layer": [
    {
      "data": {"name": "c4"},
      "layer": [
        {"mark": {"type": "line", "strokeWidth": 0.8},
         "encoding": {"stroke": {"field": "s", "type": "nominal", "scale": {"domain": ["稳定阶段(路径4)", "最大持水能力阶段(路径4)", "湿化前(路径4)"], "range": ["#2a3ccc", "#e0352a", "#222222"]}, "legend": null}}},
        {"transform": [{"filter": "datum.s === '湿化前(路径4)'"}], "mark": {"type": "point", "shape": "square", "filled": false, "strokeWidth": 0.8, "size": 32},
         "encoding": {"color": {"field": "s", "type": "nominal", "title": null, "scale": {"domain": ["湿化前(路径4)", "最大持水能力阶段(路径4)", "稳定阶段(路径4)"], "range": ["#222222", "#e0352a", "#2a3ccc"]}}}},
        {"transform": [{"filter": "datum.s === '最大持水能力阶段(路径4)'"}], "mark": {"type": "point", "shape": "triangle-up", "filled": false, "strokeWidth": 0.8, "size": 32},
         "encoding": {"color": {"field": "s", "type": "nominal", "title": null, "scale": {"domain": ["湿化前(路径4)", "最大持水能力阶段(路径4)", "稳定阶段(路径4)"], "range": ["#222222", "#e0352a", "#2a3ccc"]}}}},
        {"transform": [{"filter": "datum.s === '稳定阶段(路径4)'"}], "mark": {"type": "point", "shape": "triangle-down", "filled": false, "strokeWidth": 0.8, "size": 32},
         "encoding": {"color": {"field": "s", "type": "nominal", "title": null, "scale": {"domain": ["湿化前(路径4)", "最大持水能力阶段(路径4)", "稳定阶段(路径4)"], "range": ["#222222", "#e0352a", "#2a3ccc"]}}}},
        {"mark": {"type": "point", "filled": false, "opacity": 0, "size": 16},
         "encoding": {
           "color": {"field": "s", "type": "nominal", "title": null, "scale": {"domain": ["湿化前(路径4)", "最大持水能力阶段(路径4)", "稳定阶段(路径4)"], "range": ["#222222", "#e0352a", "#2a3ccc"]}, "legend": {"orient": "none", "legendX": 66, "legendY": 5, "labelFontSize": 9.5}},
           "shape": {"field": "s", "type": "nominal", "title": null, "scale": {"domain": ["湿化前(路径4)", "最大持水能力阶段(路径4)", "稳定阶段(路径4)"], "range": ["M-1,0H3M5,0H9M3,0A1,1,0,1,1,5,0A1,1,0,1,1,3,0Z", "M-1,0H3.3M4.7,0H9M4,-1.1L5.2,0.9L2.8,0.9Z", "M-1,0H3.3M4.7,0H9M4,1.1L5.2,-0.9L2.8,-0.9Z"]}, "legend": {"orient": "none", "legendX": 66, "legendY": 5, "labelFontSize": 9.5}}
         }}
      ]
    },
    {
      "data": {"name": "c5"},
      "layer": [
        {"mark": {"type": "line", "strokeWidth": 0.8},
         "encoding": {"stroke": {"field": "s", "type": "nominal", "scale": {"domain": ["稳定阶段(路径5)", "最大持水能力阶段(路径5)", "湿化前(路径5)"], "range": ["#1c2a8a", "#5cbf5c", "#d04ee0"]}, "legend": null}}},
        {"transform": [{"filter": "datum.s === '湿化前(路径5)'"}], "mark": {"type": "point", "shape": "diamond", "filled": false, "strokeWidth": 0.8, "size": 32},
         "encoding": {"color": {"field": "s", "type": "nominal", "title": null, "scale": {"domain": ["湿化前(路径5)", "最大持水能力阶段(路径5)", "稳定阶段(路径5)"], "range": ["#d04ee0", "#5cbf5c", "#1c2a8a"]}}}},
        {"transform": [{"filter": "datum.s === '最大持水能力阶段(路径5)'"}], "mark": {"type": "point", "shape": "triangle-left", "filled": false, "strokeWidth": 0.8, "size": 32},
         "encoding": {"color": {"field": "s", "type": "nominal", "title": null, "scale": {"domain": ["湿化前(路径5)", "最大持水能力阶段(路径5)", "稳定阶段(路径5)"], "range": ["#d04ee0", "#5cbf5c", "#1c2a8a"]}}}},
        {"transform": [{"filter": "datum.s === '稳定阶段(路径5)'"}], "mark": {"type": "point", "shape": "triangle-right", "filled": false, "strokeWidth": 0.8, "size": 32},
         "encoding": {"color": {"field": "s", "type": "nominal", "title": null, "scale": {"domain": ["湿化前(路径5)", "最大持水能力阶段(路径5)", "稳定阶段(路径5)"], "range": ["#d04ee0", "#5cbf5c", "#1c2a8a"]}}}},
        {"mark": {"type": "point", "filled": false, "opacity": 0, "size": 16},
         "encoding": {
           "color": {"field": "s", "type": "nominal", "title": null, "scale": {"domain": ["湿化前(路径5)", "最大持水能力阶段(路径5)", "稳定阶段(路径5)"], "range": ["#d04ee0", "#5cbf5c", "#1c2a8a"]}, "legend": {"orient": "none", "legendX": 145, "legendY": 192, "labelFontSize": 9.5}},
           "shape": {"field": "s", "type": "nominal", "title": null, "scale": {"domain": ["湿化前(路径5)", "最大持水能力阶段(路径5)", "稳定阶段(路径5)"], "range": ["M-1,0H2.8M5.2,0H9M4,-1.2L5.2,0L4,1.2L2.8,0Z", "M-1,0H2.9M5,0H9M2.9,0L5,-1.1L5,1.1Z", "M-1,0H3M5.1,0H9M5.1,0L3,-1.1L3,1.1Z"]}, "legend": {"orient": "none", "legendX": 145, "legendY": 192, "labelFontSize": 9.5}}
         }}
      ]
    }
  ],
  "resolve": {"scale": {"color": "independent", "shape": "independent", "stroke": "independent"}}
}
]
}
